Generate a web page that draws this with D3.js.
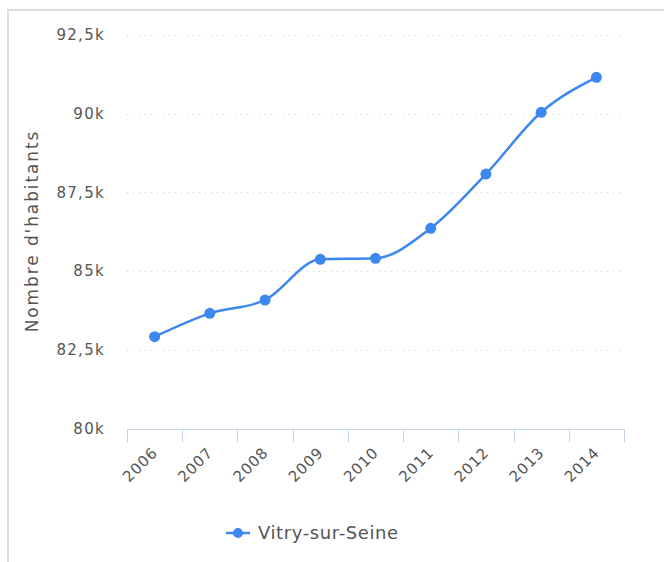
<!DOCTYPE html>
<html>
<head>
<meta charset="utf-8">
<script src="https://cdn.jsdelivr.net/npm/d3@7"></script>
<style>
  body { margin: 0; background: #fff; }
  svg { display: block; font-family: "DejaVu Sans", sans-serif; }
</style>
</head>
<body>
<svg width="664" height="562"></svg>
<script>
// population data, Vitry-sur-Seine
var years = ["2006", "2007", "2008", "2009", "2010", "2011", "2012", "2013", "2014"];
var habitants = [82916, 83659, 84082, 85375, 85407, 86360, 88084, 90044, 91156];
var yTicks = [80000, 82500, 85000, 87500, 90000, 92500];
var seriesName = "Vitry-sur-Seine";

var svg = d3.select("svg");
var lineColor = "#3d87f0";
var textColor = "#555";

// card border (left + top)
svg.append("path")
  .attr("d", "M8,562 V10 H664")
  .attr("fill", "none")
  .attr("stroke", "#dcdcdc")
  .attr("stroke-width", 2);

var x = d3.scaleBand().domain(years).range([127, 624]);
var y = d3.scaleLinear().domain([80000, 92500]).range([428.5, 35]);

var fmt = function (v) {
  return (v / 1000).toString().replace(".", ",") + "k";
};

// grid
svg.append("g")
  .selectAll("line")
  .data(yTicks.slice(1))
  .enter().append("line")
  .attr("x1", 127).attr("x2", 620)
  .attr("y1", function (d) { return Math.round(y(d)) + 0.5; })
  .attr("y2", function (d) { return Math.round(y(d)) + 0.5; })
  .attr("stroke", "#cfcfcf")
  .attr("stroke-width", 1)
  .attr("stroke-dasharray", "1,5");

// y labels
svg.append("g")
  .selectAll("text")
  .data(yTicks)
  .enter().append("text")
  .attr("x", 105)
  .attr("y", function (d) { return y(d); })
  .attr("dy", "0.35em")
  .attr("text-anchor", "end")
  .attr("fill", textColor)
  .style("font-size", "15px")
  .style("letter-spacing", "1.3px")
  .text(fmt);

svg.append("text")
  .attr("transform", "translate(38,231) rotate(-90)")
  .attr("text-anchor", "middle")
  .attr("fill", textColor)
  .style("font-size", "17px")
  .style("letter-spacing", "1.9px")
  .text("Nombre d'habitants");

// x axis: baseline + ticks at band edges
var axisColor = "#c5d5e8";
var ay = Math.round(y(80000)) + 0.5;
svg.append("line")
  .attr("x1", 127).attr("x2", 624.5)
  .attr("y1", ay).attr("y2", ay)
  .attr("stroke", axisColor);

var edges = years.map(function (d) { return x(d); }).concat([x.range()[1]]);
svg.append("g")
  .selectAll("line")
  .data(edges)
  .enter().append("line")
  .attr("x1", function (d) { return Math.round(d) + 0.5; })
  .attr("x2", function (d) { return Math.round(d) + 0.5; })
  .attr("y1", ay).attr("y2", ay + 13)
  .attr("stroke", axisColor);

svg.append("g")
  .selectAll("text")
  .data(years)
  .enter().append("text")
  .attr("transform", function (d) {
    return "translate(" + (x(d) + x.bandwidth() / 2 + 4) + "," + (ay + 24) + ") rotate(-45)";
  })
  .attr("text-anchor", "end")
  .attr("fill", textColor)
  .style("font-size", "15px")
  .style("letter-spacing", "0.9px")
  .text(function (d) { return d; });

// the line
var pts = years.map(function (d, i) { return {year: d, value: habitants[i]}; });
var line = d3.line()
  .x(function (d) { return x(d.year) + x.bandwidth() / 2; })
  .y(function (d) { return y(d.value); })
  .curve(d3.curveMonotoneX);

svg.append("path")
  .datum(pts)
  .attr("d", line)
  .attr("fill", "none")
  .attr("stroke", lineColor)
  .attr("stroke-width", 2.5);

svg.append("g")
  .selectAll("circle")
  .data(pts)
  .enter().append("circle")
  .attr("cx", function (d) { return x(d.year) + x.bandwidth() / 2; })
  .attr("cy", function (d) { return y(d.value); })
  .attr("r", 5.5)
  .attr("fill", lineColor);

// legend
var lg = svg.append("g").attr("transform", "translate(226,533)");
lg.append("line")
  .attr("x1", 0).attr("x2", 24)
  .attr("stroke", lineColor).attr("stroke-width", 2.5);
lg.append("circle").attr("cx", 12).attr("r", 5).attr("fill", lineColor);
lg.append("text")
  .attr("x", 32)
  .attr("dy", "0.35em")
  .attr("fill", textColor)
  .style("font-size", "18px")
  .style("letter-spacing", "0.6px")
  .text(seriesName);
</script>
</body>
</html>
